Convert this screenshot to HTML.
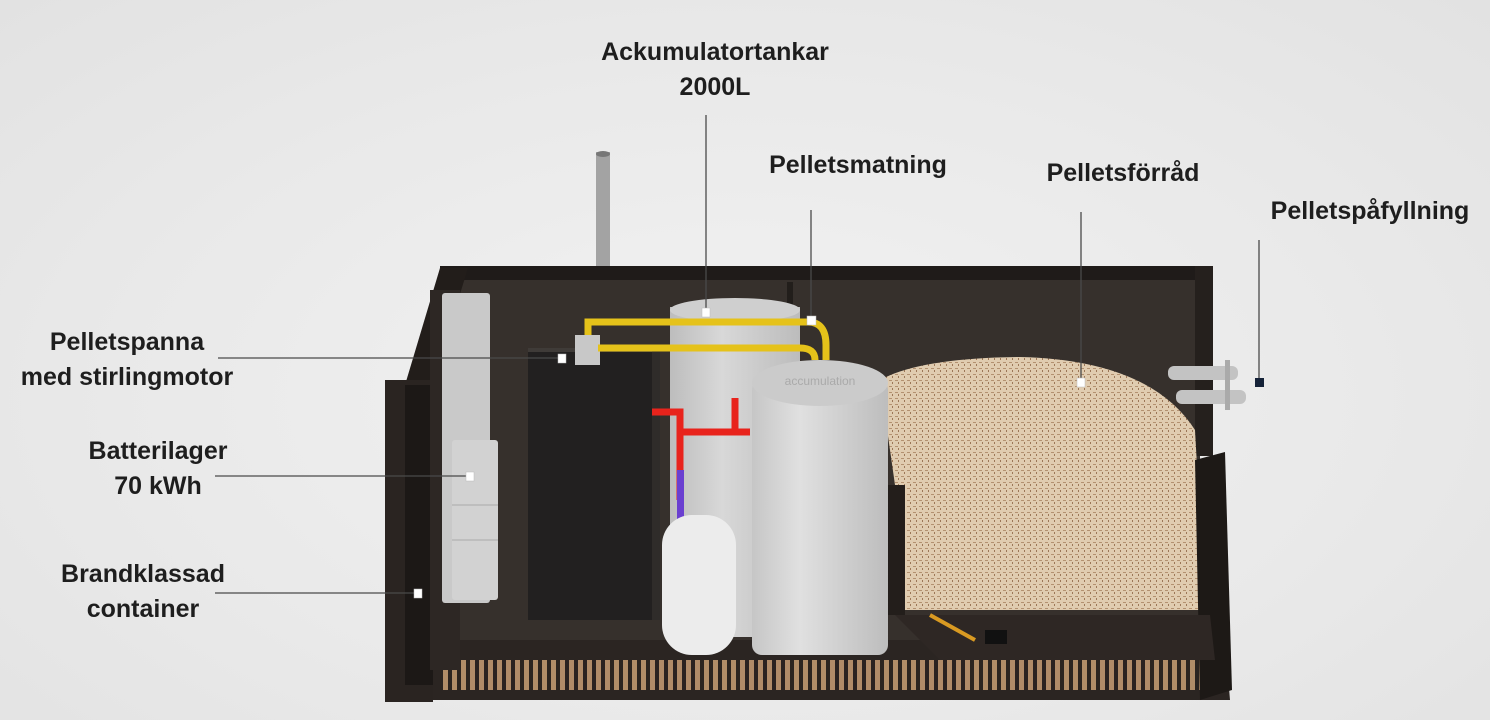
<!DOCTYPE html>
<html><head><meta charset="utf-8"><style>
html,body{margin:0;padding:0}
body{width:1490px;height:720px;overflow:hidden;background:radial-gradient(ellipse at 50% 55%,#f2f2f2 0%,#e9e9e9 60%,#e2e2e2 100%);position:relative;font-family:"Liberation Sans",sans-serif}
.t{position:absolute;font-weight:bold;font-size:25px;color:#1e1e1e;text-align:center;line-height:35px;white-space:nowrap}
svg{position:absolute;left:0;top:0}
</style></head><body>
<svg width="1490" height="720" viewBox="0 0 1490 720">
<defs>
<pattern id="slat" width="9" height="40" patternUnits="userSpaceOnUse"><rect width="9" height="40" fill="#2a2420"/><rect x="2" width="5" height="40" fill="#b08d68"/></pattern>
<pattern id="pel" width="6" height="6" patternUnits="userSpaceOnUse"><rect width="6" height="6" fill="#e0ccb0"/><rect x="1" y="2" width="3" height="1" fill="#b39170"/><rect x="4" y="4" width="1" height="2" fill="#9c7757"/></pattern>
<linearGradient id="tk" x1="0" x2="1"><stop offset="0" stop-color="#bdbdbd"/><stop offset=".4" stop-color="#d8d8d8"/><stop offset="1" stop-color="#bcbcbc"/></linearGradient>
<linearGradient id="tk2" x1="0" x2="1"><stop offset="0" stop-color="#c6c6c6"/><stop offset=".35" stop-color="#e0e0e0"/><stop offset="1" stop-color="#bdbdbd"/></linearGradient>
</defs>
<rect x="596" y="152" width="14" height="118" fill="#a3a3a3"/><ellipse cx="603" cy="154" rx="7" ry="3" fill="#777"/>
<rect x="440" y="266" width="772" height="16" fill="#1f1b19"/>
<rect x="455" y="280" width="745" height="380" fill="#36302c"/>
<rect x="787" y="282" width="6" height="70" fill="#221e1b"/>
<rect x="1195" y="266" width="18" height="190" fill="#25201d"/>
<polygon points="430,640 1225,640 1230,700 425,700" fill="#2b2522"/>
<rect x="440" y="660" width="772" height="30" fill="url(#slat)"/>
<polygon points="440,268 468,268 432,385 405,385" fill="#221d1a"/>
<rect x="385" y="380" width="48" height="322" fill="#2a2421"/>
<rect x="405" y="385" width="28" height="300" fill="#1c1816"/>
<rect x="430" y="290" width="30" height="380" fill="#2d2724"/>
<rect x="442" y="293" width="48" height="310" fill="#c9c9c9" rx="3"/>
<rect x="452" y="440" width="46" height="160" fill="#d2d2d2" rx="3"/>
<line x1="452" y1="505" x2="498" y2="505" stroke="#aaa"/><line x1="452" y1="540" x2="498" y2="540" stroke="#aaa"/>
<rect x="670" y="307" width="130" height="330" fill="url(#tk)"/>
<ellipse cx="735" cy="310" rx="65" ry="12" fill="#cfcfcf"/>
<rect x="528" y="348" width="132" height="272" fill="#222020"/>
<rect x="528" y="348" width="132" height="4" fill="#3f3b38"/>
<rect x="652" y="348" width="8" height="272" fill="#2f2c2a"/>
<rect x="575" y="335" width="25" height="30" fill="#c8c8c8"/>
<path d="M588,335 V322 H808 Q826,322 826,345 V360" stroke="#e5c21a" stroke-width="7" fill="none"/>
<path d="M598,348 H800 Q815,348 815,360" stroke="#e5c21a" stroke-width="7" fill="none"/>
<path d="M652,412 H680 V500" stroke="#e8231c" stroke-width="7" fill="none"/>
<path d="M680,432 H750 M735,398 V432" stroke="#e8231c" stroke-width="7" fill="none"/>
<rect x="677" y="470" width="7" height="50" fill="#6a3fd0"/>
<path d="M880,380 Q920,358 1020,357 Q1150,360 1195,430 L1205,610 L900,610 L895,485 Z" fill="url(#pel)"/>
<polygon points="880,485 905,485 905,615 880,615" fill="#231e1b"/>
<polygon points="1195,460 1225,452 1232,690 1200,700" fill="#1d1916"/>
<polygon points="895,615 1210,615 1215,660 940,660" fill="#2e2724"/>
<rect x="985" y="630" width="22" height="14" fill="#111"/>
<line x1="930" y1="615" x2="975" y2="640" stroke="#d99a22" stroke-width="4"/>
<rect x="752" y="380" width="136" height="275" rx="10" fill="url(#tk2)"/>
<ellipse cx="820" cy="383" rx="68" ry="23" fill="#cbcbcb"/>
<text x="820" y="385" font-size="12" fill="#aaa" text-anchor="middle" font-family="Liberation Sans">accumulation</text>
<rect x="662" y="515" width="74" height="140" rx="30" fill="#ececec"/>
<rect x="1168" y="366" width="70" height="14" rx="6" fill="#c3c3c3"/>
<rect x="1176" y="390" width="70" height="14" rx="6" fill="#c3c3c3"/>
<rect x="1225" y="360" width="5" height="50" fill="#aaa"/>
<g stroke="#4a4a4a" stroke-width="1.3">
<line x1="706" y1="115" x2="706" y2="312"/>
<line x1="811" y1="210" x2="811" y2="320"/>
<line x1="1081" y1="212" x2="1081" y2="382"/>
<line x1="1259" y1="240" x2="1259" y2="382"/>
<line x1="218" y1="358" x2="562" y2="358"/>
<line x1="215" y1="476" x2="470" y2="476"/>
<line x1="215" y1="593" x2="418" y2="593"/>
</g>
<g fill="#fff" stroke="#bbb" stroke-width=".5">
<rect x="702" y="308" width="8" height="9"/>
<rect x="807" y="316" width="9" height="9"/>
<rect x="1077" y="378" width="8" height="9"/>
<rect x="558" y="354" width="8" height="9"/>
<rect x="466" y="472" width="8" height="9"/>
<rect x="414" y="589" width="8" height="9"/>
</g>
<rect x="1255" y="378" width="9" height="9" fill="#152238"/>
</svg>
<div class="t" style="left:585px;top:35px;width:260px">Ackumulatortankar<br>2000L</div>
<div class="t" style="left:740px;top:148px;width:236px">Pelletsmatning</div>
<div class="t" style="left:1010px;top:156px;width:226px">Pelletsförråd</div>
<div class="t" style="left:1250px;top:194px;width:240px">Pelletspåfyllning</div>
<div class="t" style="left:0px;top:325px;width:254px">Pelletspanna<br>med stirlingmotor</div>
<div class="t" style="left:58px;top:434px;width:200px">Batterilager<br>70 kWh</div>
<div class="t" style="left:43px;top:557px;width:200px">Brandklassad<br>container</div>
</body></html>
